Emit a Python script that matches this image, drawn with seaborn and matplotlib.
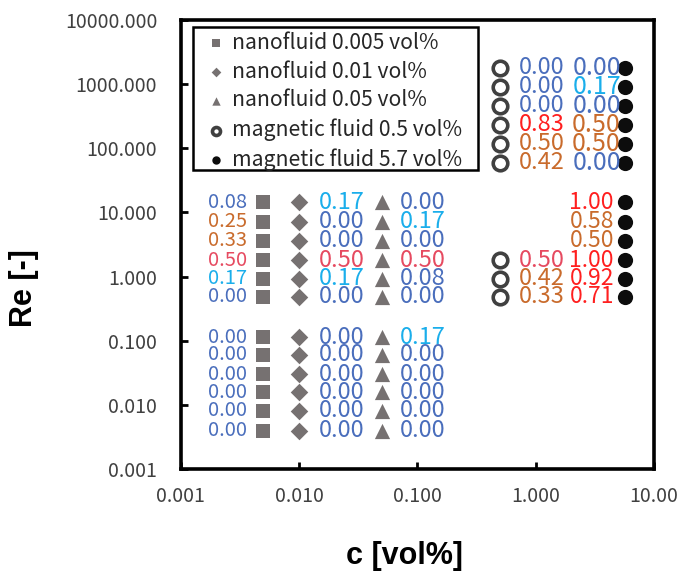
import numpy as np
import pandas as pd
import matplotlib
matplotlib.use("Agg")
import matplotlib.pyplot as plt
import seaborn as sns
from matplotlib.patches import Rectangle
from matplotlib.ticker import FixedLocator, FixedFormatter, NullLocator

sns.set_theme(style="white")
plt.rcParams['font.family'] = ['Noto Sans CJK JP', 'DejaVu Sans']

# ---------------- data ----------------
series_names = ["nanofluid 0.005 vol%", "nanofluid 0.01 vol%", "nanofluid 0.05 vol%",
                "magnetic fluid 0.5 vol%", "magnetic fluid 5.7 vol%"]
conc = [0.005, 0.01, 0.05, 0.5, 5.7]

re_nano = [14.5, 7.1, 3.6, 1.8, 0.92, 0.48, 0.113, 0.060, 0.030, 0.0157, 0.0081, 0.0039]
re_mag_open = [1813, 916, 462, 234, 118, 59.6, 1.8, 0.92, 0.48]
re_mag_filled = [1813, 916, 462, 234, 118, 59.6, 14.5, 7.1, 3.6, 1.8, 0.92, 0.48]

lab_sq = ["0.08", "0.25", "0.33", "0.50", "0.17", "0.00",
          "0.00", "0.00", "0.00", "0.00", "0.00", "0.00"]
lab_di = ["0.17", "0.00", "0.00", "0.50", "0.17", "0.00",
          "0.00", "0.00", "0.00", "0.00", "0.00", "0.00"]
lab_tr = ["0.00", "0.17", "0.00", "0.50", "0.08", "0.00",
          "0.17", "0.00", "0.00", "0.00", "0.00", "0.00"]
lab_open = ["0.00", "0.00", "0.00", "0.83", "0.50", "0.42", "0.50", "0.42", "0.33"]
lab_filled = ["0.00", "0.17", "0.00", "0.50", "0.50", "0.00",
              "1.00", "0.58", "0.50", "1.00", "0.92", "0.71"]

# colour class of each label: B blue, C cyan, O orange, P pink-red, R red
cls_sq = list("BOOPCB") + list("BBBBBB")
cls_di = list("CBBPCB") + list("BBBBBB")
cls_tr = list("BCBPBB") + list("CBBBBB")
cls_open = list("BBBROOPOO")
cls_filled = list("BCBOOB") + list("ROORRR")

x_ticks = [0.001, 0.01, 0.1, 1, 10]
x_ticklabels = ["0.001", "0.010", "0.100", "1.000", "10.00"]
y_ticks = [0.001, 0.01, 0.1, 1, 10, 100, 1000, 10000]
y_ticklabels = ["0.001", "0.010", "0.100", "1.000", "10.000", "100.000", "1000.000", "10000.000"]

# ---------------- style ----------------
palette = {"B": "#4A6EBC", "C": "#1AAEEB", "O": "#C96B2C", "P": "#E64A60", "R": "#FF1F1F"}
gray = "#767171"

fig = plt.figure(figsize=(6.77, 5.76), dpi=100)
ax = fig.add_axes([0.267, 0.186, 0.699, 0.779])

df_sq = pd.DataFrame({"c": conc[0], "Re": re_nano})
df_di = pd.DataFrame({"c": conc[1], "Re": re_nano})
df_tr = pd.DataFrame({"c": conc[2], "Re": re_nano})
df_op = pd.DataFrame({"c": conc[3], "Re": re_mag_open})
df_fi = pd.DataFrame({"c": conc[4], "Re": re_mag_filled})

sns.scatterplot(data=df_sq, x="c", y="Re", marker="s", s=115, color=gray, linewidth=0, ax=ax)
sns.scatterplot(data=df_di, x="c", y="Re", marker="D", s=80, color=gray, linewidth=0, ax=ax)
sns.scatterplot(data=df_tr, x="c", y="Re", marker="^", s=120, color=gray, linewidth=0, ax=ax)
sns.scatterplot(data=df_op, x="c", y="Re", marker="o", s=110, color="white",
                edgecolor="#404040", linewidth=2.6, ax=ax)
sns.scatterplot(data=df_fi, x="c", y="Re", marker="o", s=120, color="#0D0D0D", linewidth=0, ax=ax)

ax.set_xscale("log")
ax.set_yscale("log")
ax.set_xlim(0.001, 10)
ax.set_ylim(0.001, 10000)
ax.xaxis.set_major_locator(FixedLocator(x_ticks))
ax.xaxis.set_major_formatter(FixedFormatter(x_ticklabels))
ax.yaxis.set_major_locator(FixedLocator(y_ticks))
ax.yaxis.set_major_formatter(FixedFormatter(y_ticklabels))
ax.xaxis.set_minor_locator(NullLocator())
ax.yaxis.set_minor_locator(NullLocator())
ax.set_xlabel("")
ax.set_ylabel("")

for sp in ax.spines.values():
    sp.set_visible(True)
    sp.set_color("black")
    sp.set_linewidth(2.6)

ax.tick_params(axis="both", which="major", direction="in", length=5, width=2,
               color="black", labelsize=14, labelcolor="#404040",
               left=True, bottom=True, top=False, right=False)
ax.tick_params(axis="x", pad=12)
ax.tick_params(axis="y", pad=17)


def annotate(xs, ys, labels, classes, dx, ha, size):
    for y, lab, cl in zip(ys, labels, classes):
        ax.annotate(lab, (xs, y), xytext=(dx, 0), textcoords="offset points",
                    ha=ha, va="center", fontsize=size, color=palette[cl])


annotate(conc[0], re_nano, lab_sq, cls_sq, -12, "right", 14.5)
annotate(conc[1], re_nano, lab_di, cls_di, 14, "left", 17)
annotate(conc[2], re_nano, lab_tr, cls_tr, 13, "left", 17)
annotate(conc[3], re_mag_open, lab_open, cls_open, 13.5, "left", 17)
annotate(conc[4], re_mag_filled[:6], lab_filled[:6], cls_filled[:6], -3, "right", 18)
annotate(conc[4], re_mag_filled[6:], lab_filled[6:], cls_filled[6:], -8, "right", 16.5)

# legend (frame drawn as a separate box so its right padding matches)
handles = ax.collections[:5]
leg = ax.legend(handles, series_names, loc="upper left", bbox_to_anchor=(0.025, 0.984),
                borderaxespad=0, frameon=False, fontsize=15.2,
                markerscale=0.55, handletextpad=-0.2, labelspacing=0.33,
                borderpad=0.2, handlelength=1.85)
for t in leg.get_texts():
    t.set_color("#262626")
ax.add_patch(Rectangle((0.025, 0.666), 0.603, 0.318, transform=ax.transAxes,
                       facecolor="none", edgecolor="black", linewidth=1.8, zorder=5))

fig.text(0.036, 0.50, "Re [-]", rotation=90, fontsize=22, fontweight="bold",
         family=["Liberation Sans", "DejaVu Sans"], ha="center", va="center", color="black")
fig.text(0.598, 0.035, "c [vol%]", fontsize=22, fontweight="bold",
         family=["Liberation Sans", "DejaVu Sans"], ha="center", va="center", color="black")

fig.savefig("out.png", dpi=100, facecolor="white")
